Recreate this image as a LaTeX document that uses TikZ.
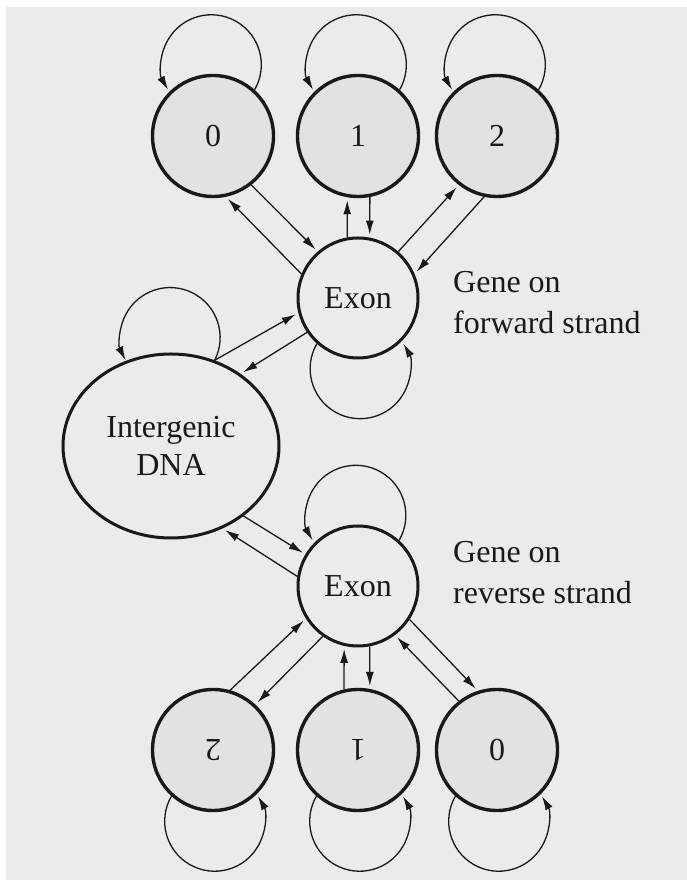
\documentclass[tikz,border=0pt]{standalone}
\usepackage{fontspec}
\setmainfont{Liberation Serif}
\usepackage{graphicx}
\usetikzlibrary{arrows.meta,shapes.geometric}
\definecolor{panel}{RGB}{235,235,235}
\definecolor{statefill}{RGB}{226,226,226}
\definecolor{ink}{RGB}{25,25,25}

\begin{document}
\begin{tikzpicture}[x=1pt,y=1pt,
  bigfont/.style={font=\fontsize{32}{38}\selectfont},
  phase/.style={circle,draw=ink,text=ink,line width=3.4pt,fill=statefill,
    minimum size=121pt,inner sep=0pt,bigfont},
  exon/.style={circle,draw=ink,text=ink,line width=3pt,fill=panel,
    minimum size=120pt,inner sep=0pt,bigfont},
  interg/.style={ellipse,draw=ink,text=ink,line width=3pt,fill=panel,
    minimum width=216pt,minimum height=184pt,inner sep=0pt,align=center,bigfont},
  strandlabel/.style={text=ink,inner sep=0pt,align=left,anchor=base west,
    font=\fontsize{32}{41}\selectfont},
  trans/.style={draw=ink,line width=1.3pt,-{Latex[length=14pt,width=8pt]},shorten >=3pt},
  selfloop/.style={draw=ink,line width=1.3pt,-{Latex[length=14pt,width=8pt]}}
]
\useasboundingbox (0,0) rectangle (687,880);
\fill[panel] (6,0) rectangle (687,873);

% forward-strand gene: exon with its three codon phases
\node[phase] (f0) at (213,744) {0};
\node[phase] (f1) at (358,744) {1};
\node[phase] (f2) at (497,744) {2};
\node[exon]  (fe) at (358,582) {Exon};

% intergenic region
\node[interg] (ig) at (171,434) {Intergenic\\DNA};

% reverse-strand gene: phases printed upside down
\node[exon]  (re) at (358,294) {Exon};
\node[phase] (r2) at (213,130) {\rotatebox[origin=c]{180}{2}};
\node[phase] (r1) at (358,130) {\rotatebox[origin=c]{180}{1}};
\node[phase] (r0) at (497,130) {\rotatebox[origin=c]{180}{0}};

% labels are placed by the baseline of their last line
\node[strandlabel] (fwdlabel) at (453,546) {Gene on\\forward strand};
\node[strandlabel] (revlabel) at (453,276) {Gene on\\reverse strand};

% self transitions
\draw[selfloop] (f0.48) arc[start angle=-30,end angle=210,radius=50pt];
\draw[selfloop] (f1.48) arc[start angle=-30,end angle=210,radius=50pt];
\draw[selfloop] (f2.48) arc[start angle=-30,end angle=210,radius=50pt];
\draw[selfloop] (fe.228) arc[start angle=150,end angle=390,radius=50pt];
\draw[selfloop] (ig.63) arc[start angle=-27,end angle=207,radius=50pt];
\draw[selfloop] (re.48) arc[start angle=-30,end angle=210,radius=50pt];
\draw[selfloop] (r2.228) arc[start angle=150,end angle=390,radius=50pt];
\draw[selfloop] (r1.228) arc[start angle=150,end angle=390,radius=50pt];
\draw[selfloop] (r0.228) arc[start angle=150,end angle=390,radius=50pt];

% forward exon <-> phases
\draw[trans] (fe.157) -- (f0.282);
\draw[trans] (f0.308) -- (fe.131);
\draw[trans] (fe.100) -- (f1.260);
\draw[trans] (f1.281) -- (fe.79);
\draw[trans] (fe.49)  -- (f2.232);
\draw[trans] (f2.258) -- (fe.23);

% intergenic <-> exons
\draw[trans] (ig.63)  -- (fe.194);
\draw[trans] (fe.214) -- (ig.46);
\draw[trans] (ig.-44) -- (re.149);
\draw[trans] (re.171) -- (ig.-58);

% reverse exon <-> phases
\draw[trans] (r2.74)  -- (re.212);
\draw[trans] (re.235) -- (r2.47);
\draw[trans] (r1.103) -- (re.257);
\draw[trans] (re.281) -- (r1.79);
\draw[trans] (r0.128) -- (re.307);
\draw[trans] (re.327) -- (r0.108);
\end{tikzpicture}
\end{document}
